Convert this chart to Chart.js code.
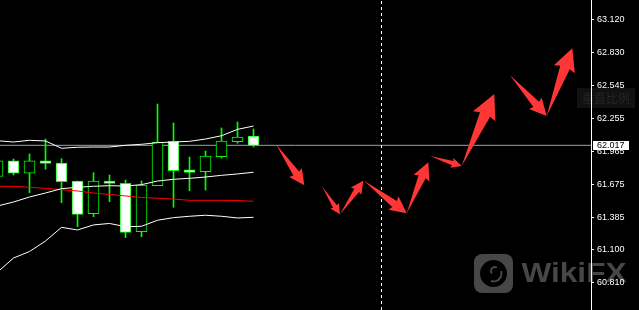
<!DOCTYPE html>
<html>
<head>
<meta charset="utf-8">
<script src="https://cdn.jsdelivr.net/npm/chart.js@4.4.1/dist/chart.umd.min.js"></script>
<style>
html,body{margin:0;padding:0;background:#000;overflow:hidden;}
canvas{display:block;}
</style>
</head>
<body>
<canvas id="c" width="639" height="310"></canvas>
<script>
// ---- data ----
const barIndex = [0,1,2,3,4,5,6,7,8,9,10,11,12,13,14,15,16];
const openP  = [61.744,61.880,61.772,61.880,61.862,61.704,61.418,61.704,61.684,61.260,61.663,62.052,61.801,61.786,61.917,62.049,62.099];
const highP  = [61.880,61.897,61.941,62.072,61.900,61.704,61.777,61.757,61.713,61.704,62.379,62.213,61.915,61.967,62.169,62.221,62.160];
const lowP   = [61.740,61.757,61.602,61.807,61.514,61.304,61.391,61.523,61.207,61.216,61.663,61.474,61.619,61.625,61.906,62.035,62.002];
const closeP = [61.880,61.772,61.880,61.859,61.698,61.412,61.704,61.682,61.254,61.669,62.043,61.794,61.779,61.923,62.055,62.090,62.017];

const bandUpper  = [62.057,62.046,62.061,62.055,61.991,62.000,62.002,62.002,62.017,62.026,62.040,62.046,62.052,62.072,62.101,62.157,62.186];
const bandMiddle = [61.485,61.520,61.564,61.599,61.637,61.649,61.658,61.663,61.660,61.672,61.704,61.719,61.728,61.739,61.754,61.766,61.781];
const bandLower  = [60.905,61.029,61.086,61.178,61.298,61.275,61.319,61.332,61.304,61.307,61.360,61.383,61.395,61.404,61.395,61.380,61.386];
const maRed      = [61.658,61.658,61.649,61.640,61.628,61.617,61.599,61.586,61.573,61.560,61.553,61.546,61.535,61.535,61.535,61.533,61.526];

const bidPrice = 62.017;
const priceTicks = [63.120,62.830,62.545,62.255,61.965,61.675,61.385,61.100,60.810];
const dashedLineIndex = 24;

const arrowX0 = [17.406,20.300,21.406,22.906,25.575,27.031,29.013,32.031,34.325];
const arrowY0 = [62.026,61.654,61.412,61.707,61.421,61.923,61.836,62.631,62.274];
const arrowX1 = [19.175,21.406,22.863,25.575,26.925,29.013,31.050,34.325,35.925];
const arrowY1 = [61.667,61.412,61.707,61.421,61.868,61.836,62.467,62.274,62.868];

const watermarkText = 'WikiFX';
const scaleBoxText = '垂直比例';

// ---- scale range ----
const X_MIN = 0.15625, X_MAX = 0.15625 + 591/16;
const Y_MAX = 63.2909, Y_MIN = 60.5733;

const bodies = barIndex.map(i => ({x:i, y:[openP[i], closeP[i]]}));
const wicks  = barIndex.map(i => ({x:i, y:[lowP[i], highP[i]]}));
const bodyFill = barIndex.map(i => closeP[i] < openP[i] ? '#ffffff' : '#000000');
const line = arr => barIndex.map(i => ({x:i, y:arr[i]}));

function drawArrow(ctx, x1, y1, x2, y2) {
  const dx = x2 - x1, dy = y2 - y1, L = Math.hypot(dx, dy);
  const ux = dx / L, uy = dy / L, nx = -uy, ny = ux;
  const hl = 0.31 * L, hw = 0.155 * L, nw = 0.07 * L, neck = hl * 0.92;
  const bx = x2 - ux * hl, by = y2 - uy * hl;
  const kx = x2 - ux * neck, ky = y2 - uy * neck;
  ctx.beginPath();
  ctx.moveTo(x1, y1);
  ctx.lineTo(kx + nx * nw, ky + ny * nw);
  ctx.lineTo(bx + nx * hw, by + ny * hw);
  ctx.lineTo(x2, y2);
  ctx.lineTo(bx - nx * hw, by - ny * hw);
  ctx.lineTo(kx - nx * nw, ky - ny * nw);
  ctx.closePath();
  ctx.fill();
}

const deco = {
  id: 'deco',
  beforeDraw(chart) {
    const ctx = chart.ctx;
    ctx.save();
    ctx.fillStyle = '#000';
    ctx.fillRect(0, 0, chart.width, chart.height);
    // faint tooltip box
    ctx.fillStyle = '#111111';
    ctx.fillRect(577, 88, 58, 20);
    ctx.fillStyle = '#262626';
    ctx.font = '12px "Noto Sans CJK SC"';
    ctx.textBaseline = 'middle';
    ctx.fillText(scaleBoxText, 582, 98.5);
    // watermark logo
    ctx.fillStyle = '#474747';
    ctx.beginPath();
    ctx.roundRect(474, 254, 39, 39, 8);
    ctx.fill();
    ctx.fillStyle = '#000';
    ctx.beginPath();
    ctx.arc(493.5, 273.5, 13.5, 0, Math.PI * 2);
    ctx.fill();
    ctx.strokeStyle = '#474747';
    ctx.lineWidth = 2;
    ctx.beginPath();
    ctx.arc(493.5, 273.5, 8, -0.3, 1.9);
    ctx.stroke();
    ctx.beginPath();
    ctx.arc(495, 271, 4, 2.5, 5.2);
    ctx.stroke();
    // watermark text
    ctx.font = 'bold 28px "Liberation Sans"';
    ctx.textBaseline = 'alphabetic';
    const w = ctx.measureText(watermarkText).width;
    ctx.translate(521.5, 282);
    ctx.scale(105 / w, 1);
    ctx.fillStyle = '#474747';
    ctx.fillText(watermarkText, 0, 0);
    ctx.restore();
  },
  afterDatasetsDraw(chart) {
    const ctx = chart.ctx, xs = chart.scales.x, ys = chart.scales.y;
    ctx.save();
    // dashed vertical line
    const vx = Math.floor(xs.getPixelForValue(dashedLineIndex)) + 0.5;
    ctx.strokeStyle = '#ffffff';
    ctx.lineWidth = 1;
    ctx.setLineDash([3, 3]);
    ctx.lineDashOffset = -1;
    ctx.beginPath();
    ctx.moveTo(vx, 0);
    ctx.lineTo(vx, chart.height);
    ctx.stroke();
    ctx.setLineDash([]);
    // arrows
    ctx.fillStyle = '#ff3636';
    for (let i = 0; i < arrowX0.length; i++) {
      drawArrow(ctx,
        xs.getPixelForValue(arrowX0[i]), ys.getPixelForValue(arrowY0[i]),
        xs.getPixelForValue(arrowX1[i]), ys.getPixelForValue(arrowY1[i]));
    }
    ctx.restore();
  },
  afterDraw(chart) {
    const ctx = chart.ctx, ys = chart.scales.y;
    const py = ys.getPixelForValue(bidPrice);
    ctx.save();
    ctx.fillStyle = '#ffffff';
    ctx.fillRect(593, Math.round(py) - 4, 36, 9);
    ctx.fillStyle = '#000000';
    ctx.font = '9px "Liberation Sans"';
    ctx.textBaseline = 'middle';
    ctx.fillText(bidPrice.toFixed(3), 597, py + 0.5);
    ctx.restore();
  }
};

new Chart(document.getElementById('c'), {
  type: 'line',
  data: {
    datasets: [
      {label:'upper', data: line(bandUpper), borderColor:'#ffffff', borderWidth:1, pointRadius:0, tension:0},
      {label:'middle', data: line(bandMiddle), borderColor:'#ffffff', borderWidth:1, pointRadius:0, tension:0},
      {label:'lower', data: line(bandLower), borderColor:'#ffffff', borderWidth:1, pointRadius:0, tension:0},
      {label:'ma', data: line(maRed), borderColor:'#ff0000', borderWidth:1, pointRadius:0, tension:0},
      {type:'bar', label:'body', data: bodies, backgroundColor: bodyFill, borderColor:'#00ff00', borderWidth:1,
        borderSkipped:false, barThickness:11, grouped:false},
      {type:'bar', label:'wick', data: wicks, backgroundColor:'#00ff00', borderWidth:0,
        barThickness:1, grouped:false},
      {label:'bid', data: [{x:X_MIN, y:bidPrice}, {x:X_MAX, y:bidPrice}], borderColor:'#9aa0ae', borderWidth:1, pointRadius:0}
    ]
  },
  options: {
    responsive: false,
    animation: false,
    devicePixelRatio: 1,
    layout: {padding: 0},
    plugins: {legend: {display:false}, tooltip: {enabled:false}},
    scales: {
      x: {type:'linear', min:X_MIN, max:X_MAX, display:false, offset:false},
      y: {
        type:'linear', position:'right', min:Y_MIN, max:Y_MAX,
        afterBuildTicks(s) { s.ticks = priceTicks.map(v => ({value:v})); },
        afterFit(s) { s.width = 48; s.paddingTop = 0; s.paddingBottom = 0; },
        grid: {drawOnChartArea:false, drawTicks:true, tickLength:3, color:'#ffffff'},
        border: {display:true, color:'#ffffff', width:1},
        ticks: {color:'#ffffff', padding:3, font:{family:'Liberation Sans', size:9},
          callback: v => Number(v).toFixed(3)}
      }
    }
  },
  plugins: [deco]
});
</script>
</body>
</html>
